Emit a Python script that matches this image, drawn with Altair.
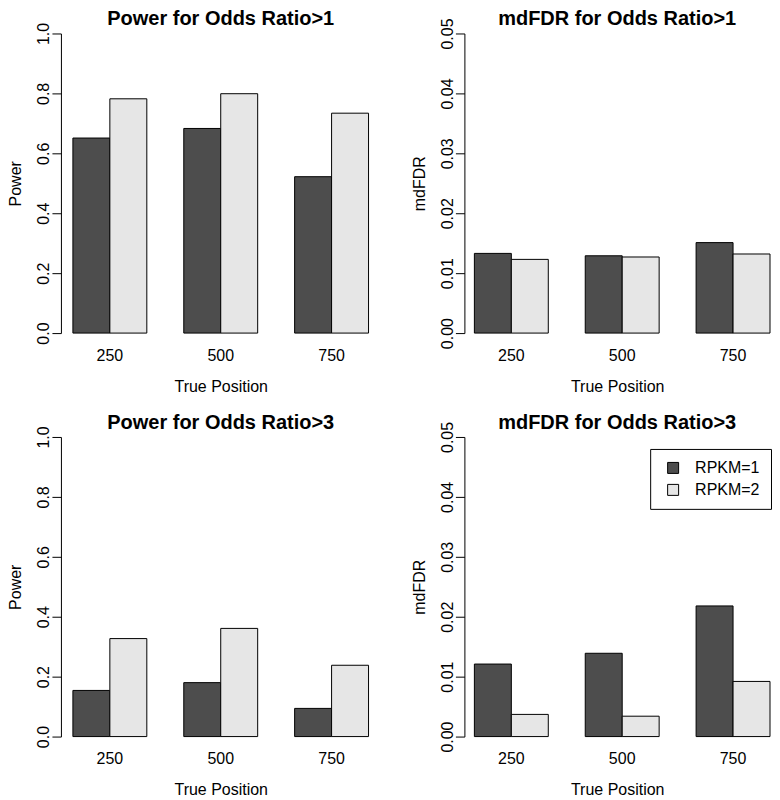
import altair as alt
import pandas as pd

# ---- data ----
positions = ["250", "500", "750"]
series = ["RPKM=1", "RPKM=2"]
bar_colors = ["#4D4D4D", "#E6E6E6"]

power_or1_rpkm1 = [0.651, 0.683, 0.522]
power_or1_rpkm2 = [0.782, 0.799, 0.734]
mdfdr_or1_rpkm1 = [0.0133, 0.0129, 0.0151]
mdfdr_or1_rpkm2 = [0.0123, 0.0127, 0.0132]
power_or3_rpkm1 = [0.154, 0.180, 0.094]
power_or3_rpkm2 = [0.327, 0.361, 0.238]
mdfdr_or3_rpkm1 = [0.0121, 0.0139, 0.0218]
mdfdr_or3_rpkm2 = [0.0037, 0.0034, 0.0092]

power_ticks = [0.0, 0.2, 0.4, 0.6, 0.8, 1.0]
mdfdr_ticks = [0.00, 0.01, 0.02, 0.03, 0.04, 0.05]

FONT = "Liberation Sans"


def make_df(v1, v2):
    return pd.DataFrame({
        "position": positions + positions,
        "series": [series[0]] * len(positions) + [series[1]] * len(positions),
        "value": list(v1) + list(v2),
    })


def panel(v1, v2, title, ytitle, ymax, ticks, fmt, width, outer, align,
          title_offset, legend=None):
    color = alt.Color("series:N", sort=series,
                      scale=alt.Scale(domain=series, range=bar_colors),
                      legend=legend)
    return alt.Chart(
        make_df(v1, v2),
        title=alt.Title(title, font=FONT, fontSize=20, fontWeight="bold",
                        color="black", anchor="middle", frame="group",
                        baseline="alphabetic", offset=title_offset),
    ).mark_bar(stroke="black", strokeWidth=1).encode(
        x=alt.X("position:N", sort=positions, title="True Position",
                scale=alt.Scale(paddingInner=1 / 3, paddingOuter=outer, align=align),
                axis=alt.Axis(labelAngle=0, domain=False, ticks=False, tickSize=0,
                              labelPadding=14, labelBaseline="top",
                              titlePadding=15,
                              labelFont=FONT, labelFontSize=16, labelColor="black",
                              titleFont=FONT, titleFontSize=16,
                              titleFontWeight="normal", titleColor="black")),
        xOffset=alt.XOffset("series:N", sort=series),
        y=alt.Y("value:Q", title=ytitle,
                scale=alt.Scale(domain=[0, ymax], nice=False, zero=True),
                axis=alt.Axis(values=ticks, format=fmt, grid=False,
                              labelAngle=270, labelAlign="center",
                              labelBaseline="alphabetic", labelOverlap=False,
                              tickSize=9, labelPadding=3,
                              domainColor="black", tickColor="black",
                              labelFont=FONT, labelFontSize=16, labelColor="black",
                              titleAngle=270, titleX=-40, titleY=150,
                              titleAlign="center", titleBaseline="alphabetic",
                              titleFont=FONT, titleFontSize=16,
                              titleFontWeight="normal", titleColor="black")),
        color=color,
    ).properties(width=width, height=300)


legend = alt.Legend(title=None, orient="none", legendX=186, legendY=12,
                    direction="vertical", strokeColor="black", fillColor="white",
                    padding=11, cornerRadius=0,
                    symbolType="square", symbolSize=121,
                    symbolStrokeColor="black", symbolStrokeWidth=1,
                    symbolOffset=4,
                    labelFont=FONT, labelFontSize=16, labelColor="black",
                    labelOffset=14, rowPadding=6)

p1 = panel(power_or1_rpkm1, power_or1_rpkm2, "Power for Odds Ratio>1", "Power",
           1.0, power_ticks, ".1f", 320, 0.108, 0.5, -23)
p2 = panel(mdfdr_or1_rpkm1, mdfdr_or1_rpkm2, "mdFDR for Odds Ratio>1", "mdFDR",
           0.05, mdfdr_ticks, ".2f", 306, 0.045, 1.0, -27.5)
p3 = panel(power_or3_rpkm1, power_or3_rpkm2, "Power for Odds Ratio>3", "Power",
           1.0, power_ticks, ".1f", 320, 0.108, 0.5, -23)
p4 = panel(mdfdr_or3_rpkm1, mdfdr_or3_rpkm2, "mdFDR for Odds Ratio>3", "mdFDR",
           0.05, mdfdr_ticks, ".2f", 306, 0.045, 1.0, -27.5, legend=legend)

row1 = alt.hconcat(p1, p2, spacing=31).resolve_scale(color="independent")
row2 = alt.hconcat(p3, p4, spacing=31).resolve_scale(color="independent")

chart = alt.vconcat(row1, row2, spacing=18).resolve_scale(
    color="independent"
).properties(
    padding={"left": 0, "top": 0, "right": 0, "bottom": 0},
    background="white",
).configure_view(stroke=None)

chart.save("out.html", embed_options={"renderer": "svg", "actions": False})
